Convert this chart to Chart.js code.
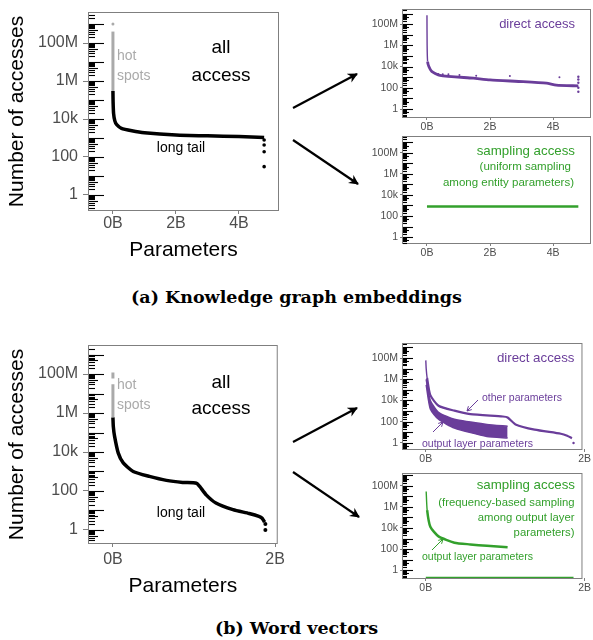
<!DOCTYPE html>
<html>
<head>
<meta charset="utf-8">
<script src="https://cdn.jsdelivr.net/npm/chart.js@4.4.1/dist/chart.umd.min.js"></script>
<style>
body { margin: 0; background: #fff; width: 593px; height: 640px; position: relative; overflow: hidden; }
canvas { position: absolute; }
.cap { position: absolute; left: 0; width: 593px; text-align: center; font: bold 17.5px "DejaVu Serif", serif; line-height: 20px; color: #000; }
svg { position: absolute; left: 0; top: 0; }
</style>
</head>
<body>
<canvas id="kgAll" width="290" height="265" style="left:0;top:0"></canvas>
<canvas id="kgDirect" width="253" height="135" style="left:340px;top:0"></canvas>
<canvas id="kgSample" width="253" height="135" style="left:340px;top:128px"></canvas>
<canvas id="wvAll" width="290" height="267" style="left:0;top:333px"></canvas>
<canvas id="wvDirect" width="253" height="135" style="left:340px;top:335px"></canvas>
<canvas id="wvSample" width="253" height="135" style="left:340px;top:465px"></canvas>
<div class="cap" style="top:287px">(a) Knowledge graph embeddings</div>
<div class="cap" style="top:618px">(b) Word vectors</div>
<svg width="593" height="640">
  <defs>
    <marker id="ah" viewBox="0 0 10 10" refX="9" refY="5" markerWidth="4.5" markerHeight="4.5" orient="auto">
      <path d="M0,0 L10,5 L0,10 L3,5 z" fill="#000"/>
    </marker>
  </defs>
  <line x1="293" y1="108" x2="357" y2="74" stroke="#000" stroke-width="2.2" marker-end="url(#ah)"/>
  <line x1="293" y1="140" x2="358" y2="184" stroke="#000" stroke-width="2.2" marker-end="url(#ah)"/>
  <line x1="293" y1="442" x2="357" y2="408" stroke="#000" stroke-width="2.2" marker-end="url(#ah)"/>
  <line x1="293" y1="472" x2="359" y2="517" stroke="#000" stroke-width="2.2" marker-end="url(#ah)"/>
</svg>
<script>
// x values are in billions of parameters, y values are access counts
const yTickVals = [1, 100, 1e4, 1e6, 1e8];
const yTickLabels = ['1', '100', '10k', '1M', '100M'];
const kgXTicks = [0, 2, 4];
const kgXLabels = ['0B', '2B', '4B'];
const wvXTicks = [0, 2];
const wvXLabels = ['0B', '2B'];

// (a) knowledge graph embeddings
const kgHotX = [0, 0, 0, 0, 0, 0, 0];
const kgHotY = [1e9, null, 4e8, 1e8, 1e7, 1e6, 3e5];
const kgAllX = [0, 0.005, 0.02, 0.06, 0.12, 0.27, 0.6, 1, 2, 3, 4, 4.8];
const kgAllY = [3e5, 8e4, 2e4, 8000, 5000, 3200, 2400, 1900, 1450, 1300, 1200, 1070];
const kgTailX = [4.8, 4.8, 4.8, 4.8];
const kgTailY = [790, 430, 190, 31];
const kgDirX = [0, 0.005, 0.02, 0.06, 0.15, 0.41, 1.47, 2.0, 3.05, 3.79, 4.1, 4.8];
const kgDirY = [7e8, 1e6, 3e4, 1e4, 3500, 1500, 800, 550, 380, 270, 180, 150];
const kgDirOutX = [0.23, 0.36, 0.5, 0.68, 1.03, 1.56, 2.63, 4.2];
const kgDirOutY = [2300, 2000, 1900, 1900, 1600, 1400, 1300, 1000];
const kgDirEndX = [4.8, 4.8, 4.8, 4.8, 4.8];
const kgDirEndY = [1100, 600, 300, 100, 43];
const kgSampX = [0, 4.8];
const kgSampY = [800, 800];

// (b) word vectors
const wvHotX = [0, 0, 0, 0, 0, 0];
const wvHotY = [1.2e8, 6e7, null, 3e7, 1e7, 6e5];
const wvAllX = [0, 0.005, 0.02, 0.065, 0.127, 0.25, 0.45, 0.66, 0.86, 1.03, 1.07, 1.15, 1.27, 1.48, 1.68, 1.8, 1.84, 1.87];
const wvAllY = [6e5, 2e5, 6.5e4, 9000, 2750, 1000, 560, 350, 275, 250, 170, 63, 24, 11, 7, 5, 4, 2.5];
const wvTailX = [1.88, 1.88];
const wvTailY = [2, 1];
const wvDirX = [0, 0.005, 0.017, 0.057, 0.16, 0.36, 0.56, 0.97, 1.03, 1.13, 1.37, 1.7, 1.78, 1.84];
const wvDirY = [6e7, 1e7, 1.3e6, 3.2e4, 3200, 1100, 525, 310, 250, 56, 18, 7.4, 4.8, 2.8];
const wvOutX = [0.005, 0.057, 0.16, 0.36, 0.77, 1.03];
const wvOutHi = [1e6, 1e4, 760, 170, 56, 38];
const wvOutLo = [3e5, 1600, 170, 26, 4, 3];
const wvSampX = [0.005, 0.017, 0.057, 0.16, 0.36, 0.56, 0.77, 1.03];
const wvSampY = [3e7, 5e5, 1.3e4, 1600, 400, 275, 200, 145];
const wvZeroX = [0, 1.86];
const wvZeroY = [0.18, 0.18];

const GRAY = '#7f7f7f', TXT = '#4d4d4d', PURPLE = '#6a3d9a', GREEN = '#33a02c', HOT = '#aaaaaa';
const SANS = '"Liberation Sans", Arial, sans-serif';
Chart.defaults.font.family = SANS;

const pts = (xs, ys) => xs.map((x, i) => ({ x: x, y: ys[i] }));

// thin: segments before this index are drawn thinner (the spike at 0B)
function line(xs, ys, color, w, thin) {
  const ds = { data: pts(xs, ys), showLine: true, borderColor: color, backgroundColor: color,
               borderWidth: w, pointRadius: 0, tension: 0.2, spanGaps: false, fill: false };
  if (thin) ds.segment = { borderWidth: c => c.p0DataIndex < thin ? 1.4 : w };
  return ds;
}
function dots(xs, ys, color, r) {
  return { data: pts(xs, ys), showLine: false, backgroundColor: color, borderWidth: 0, pointRadius: r };
}

// extra drawing per canvas: page offset, log tick lengths, text notes, small arrows
const extras = {};

const deco = {
  id: 'deco',
  afterDraw(chart) {
    const ex = extras[chart.canvas.id];
    const { ctx, chartArea: a } = chart;
    const y = chart.scales.y;
    ctx.save();
    ctx.strokeStyle = GRAY;
    ctx.lineWidth = 1;
    ctx.strokeRect(a.left - 0.5, a.top - 0.5, a.right - a.left + 1, a.bottom - a.top + 1);
    // log ticks inside the panel
    ctx.strokeStyle = '#000';
    ctx.lineWidth = 1.1;
    const lo = Math.floor(Math.log10(y.min)), hi = Math.ceil(Math.log10(y.max));
    for (let k = lo; k <= hi; k++) {
      for (let m = 1; m <= 9; m++) {
        const v = m * Math.pow(10, k);
        if (v < y.min || v > y.max) continue;
        const py = Math.round(y.getPixelForValue(v)) + 0.5;
        const len = m === 1 ? ex.lt[0] : (m === 5 ? ex.lt[1] : ex.lt[2]);
        ctx.beginPath();
        ctx.moveTo(a.left, py);
        ctx.lineTo(a.left + len, py);
        ctx.stroke();
      }
    }
    ctx.textBaseline = 'middle';
    (ex.notes || []).forEach(n => {
      ctx.font = n.f + 'px ' + SANS;
      ctx.fillStyle = n.c;
      ctx.textAlign = n.a || 'center';
      ctx.fillText(n.t, n.x - ex.left, n.y - ex.top);
    });
    (ex.arrows || []).forEach(r => {
      const x1 = r[0] - ex.left, y1 = r[1] - ex.top, x2 = r[2] - ex.left, y2 = r[3] - ex.top;
      const ang = Math.atan2(y2 - y1, x2 - x1);
      ctx.strokeStyle = r[4];
      ctx.lineWidth = 1;
      ctx.beginPath();
      ctx.moveTo(x1, y1);
      ctx.lineTo(x2, y2);
      ctx.moveTo(x2 - 5 * Math.cos(ang - 0.5), y2 - 5 * Math.sin(ang - 0.5));
      ctx.lineTo(x2, y2);
      ctx.lineTo(x2 - 5 * Math.cos(ang + 0.5), y2 - 5 * Math.sin(ang + 0.5));
      ctx.stroke();
    });
    ctx.restore();
  }
};

function makeChart(id, o) {
  extras[id] = o.extra;
  const big = o.big;
  new Chart(document.getElementById(id), {
    type: 'scatter',
    data: { datasets: o.datasets },
    plugins: [deco],
    options: {
      responsive: false,
      animation: false,
      layout: { autoPadding: false, padding: o.pad },
      plugins: { legend: { display: false }, tooltip: { enabled: false } },
      scales: {
        x: {
          type: 'linear', min: o.xr[0], max: o.xr[1],
          afterBuildTicks: s => { s.ticks = o.xt.map(v => ({ value: v })); },
          afterFit: s => { s.height = o.xh; },
          ticks: { callback: v => o.xl[o.xt.indexOf(v)], color: TXT, maxRotation: 0, autoSkip: false,
                   font: { size: big ? 16 : 10.5, lineHeight: 1 }, padding: o.xp || 0 },
          grid: { display: true, drawOnChartArea: false, color: GRAY, tickLength: big ? 4 : 3 },
          border: { display: false },
          title: { display: big, text: 'Parameters', color: '#000',
                   font: { size: 21, lineHeight: 1.2 }, padding: { top: 0, bottom: o.xtp || 0 } }
        },
        y: {
          type: 'logarithmic', min: Math.pow(10, o.yr[0]), max: Math.pow(10, o.yr[1]),
          afterBuildTicks: s => { s.ticks = yTickVals.map(v => ({ value: v })); },
          afterFit: s => { s.width = o.yw; },
          ticks: { callback: v => yTickLabels[yTickVals.indexOf(v)], color: TXT, autoSkip: false,
                   font: { size: big ? 16 : 10.5, lineHeight: 1 }, padding: big ? 5 : 2 },
          grid: { display: true, drawOnChartArea: false, color: GRAY, tickLength: big ? 6 : 3 },
          border: { display: false },
          title: { display: big, text: 'Number of accesses', color: '#000',
                   font: { size: 21, lineHeight: 1.2 }, padding: { top: 5, bottom: 0 } }
        }
      }
    }
  });
}

makeChart('kgAll', {
  big: true, pad: { top: 13, right: 12, left: 0, bottom: 0 }, yw: 89, xh: 55, xtp: 2.5, xp: 2,
  xr: [-0.76, 5.24], yr: [-0.79, 9.58], xt: kgXTicks, xl: kgXLabels,
  datasets: [
    line(kgHotX, kgHotY, HOT, 3),
    dots([0], [1e9], HOT, 1.5),
    line(kgAllX, kgAllY, '#000', 3.5),
    dots(kgTailX, kgTailY, '#000', 1.8)
  ],
  extra: { left: 0, top: 0, lt: [15, 9, 6], notes: [
    { t: 'all', x: 221, y: 48, f: 19, c: '#000' },
    { t: 'access', x: 221, y: 76, f: 19, c: '#000' },
    { t: 'hot', x: 117, y: 56, f: 14, c: HOT, a: 'left' },
    { t: 'spots', x: 117, y: 76, f: 14, c: HOT, a: 'left' },
    { t: 'long tail', x: 181, y: 148, f: 14, c: '#000' }
  ] }
});

makeChart('kgDirect', {
  big: false, pad: { top: 10, right: 3, left: 0, bottom: 0 }, yw: 63, xh: 18, xp: 2,
  xr: [-0.76, 5.17], yr: [-0.75, 9.33], xt: kgXTicks, xl: kgXLabels,
  datasets: [
    line(kgDirX, kgDirY, PURPLE, 2.8, 2),
    dots(kgDirOutX, kgDirOutY, PURPLE, 1),
    dots(kgDirEndX, kgDirEndY, PURPLE, 1.2)
  ],
  extra: { left: 340, top: 0, lt: [10, 6, 4], notes: [
    { t: 'direct access', x: 575, y: 24, f: 13, c: PURPLE, a: 'right' }
  ] }
});

makeChart('kgSample', {
  big: false, pad: { top: 9, right: 3, left: 0, bottom: 0 }, yw: 63, xh: 20, xp: 2,
  xr: [-0.76, 5.17], yr: [-0.57, 9.52], xt: kgXTicks, xl: kgXLabels,
  datasets: [
    line(kgSampX, kgSampY, GREEN, 2.5)
  ],
  extra: { left: 340, top: 128, lt: [10, 6, 4], notes: [
    { t: 'sampling access', x: 575, y: 151, f: 13.3, c: GREEN, a: 'right' },
    { t: '(uniform sampling', x: 571, y: 167, f: 11.5, c: GREEN, a: 'right' },
    { t: 'among entity parameters)', x: 574, y: 183, f: 11.5, c: GREEN, a: 'right' }
  ] }
});

makeChart('wvAll', {
  big: true, pad: { top: 13, right: 12, left: 0, bottom: 0 }, yw: 89, xh: 57, xtp: 1.5, xp: 5,
  xr: [-0.295, 2.02], yr: [-0.67, 9.44], xt: wvXTicks, xl: wvXLabels,
  datasets: [
    line(wvHotX, wvHotY, HOT, 3),
    line(wvAllX, wvAllY, '#000', 3.5),
    dots(wvTailX, wvTailY, '#000', 2)
  ],
  extra: { left: 0, top: 333, lt: [15, 9, 6], notes: [
    { t: 'all', x: 221, y: 383, f: 19, c: '#000' },
    { t: 'access', x: 221, y: 409, f: 19, c: '#000' },
    { t: 'hot', x: 117, y: 385, f: 14, c: HOT, a: 'left' },
    { t: 'spots', x: 117, y: 405, f: 14, c: HOT, a: 'left' },
    { t: 'long tail', x: 181, y: 513, f: 14, c: '#000' }
  ] }
});

const wvHiSet = line(wvOutX, wvOutHi, PURPLE, 1.5);
const wvLoSet = line(wvOutX, wvOutLo, PURPLE, 1.5);
wvLoSet.fill = '-1';

makeChart('wvDirect', {
  big: false, pad: { top: 9, right: 4, left: 0, bottom: 0 }, yw: 63, xh: 21, xp: 2,
  xr: [-0.287, 1.96], yr: [-0.57, 9.32], xt: wvXTicks, xl: wvXLabels,
  datasets: [
    line(wvDirX, wvDirY, PURPLE, 2.2, 2),
    dots([1.86], [1], PURPLE, 1.2),
    wvHiSet,
    wvLoSet
  ],
  extra: { left: 340, top: 335, lt: [10, 6, 4], notes: [
    { t: 'direct access', x: 574.5, y: 358, f: 13.3, c: PURPLE, a: 'right' },
    { t: 'other parameters', x: 482, y: 398, f: 10.5, c: PURPLE, a: 'left' },
    { t: 'output layer parameters', x: 422, y: 444, f: 10.5, c: PURPLE, a: 'left' }
  ], arrows: [
    [478, 400, 467, 411, PURPLE],
    [433, 432, 443, 422, PURPLE]
  ] }
});

makeChart('wvSample', {
  big: false, pad: { top: 9, right: 4, left: 0, bottom: 0 }, yw: 63, xh: 22, xp: 2,
  xr: [-0.287, 1.96], yr: [-0.76, 9.14], xt: wvXTicks, xl: wvXLabels,
  datasets: [
    line(wvSampX, wvSampY, GREEN, 2.5, 1),
    line(wvZeroX, wvZeroY, GREEN, 2)
  ],
  extra: { left: 340, top: 465, lt: [10, 6, 4], notes: [
    { t: 'sampling access', x: 575, y: 485, f: 13.3, c: GREEN, a: 'right' },
    { t: '(frequency-based sampling', x: 574.5, y: 503, f: 11.3, c: GREEN, a: 'right' },
    { t: 'among output layer', x: 574.5, y: 518, f: 11.3, c: GREEN, a: 'right' },
    { t: 'parameters)', x: 574.5, y: 533, f: 11.3, c: GREEN, a: 'right' },
    { t: 'output layer parameters', x: 422, y: 557, f: 10.5, c: GREEN, a: 'left' }
  ], arrows: [
    [432, 550, 443, 539, GREEN]
  ] }
});
</script>
</body>
</html>
